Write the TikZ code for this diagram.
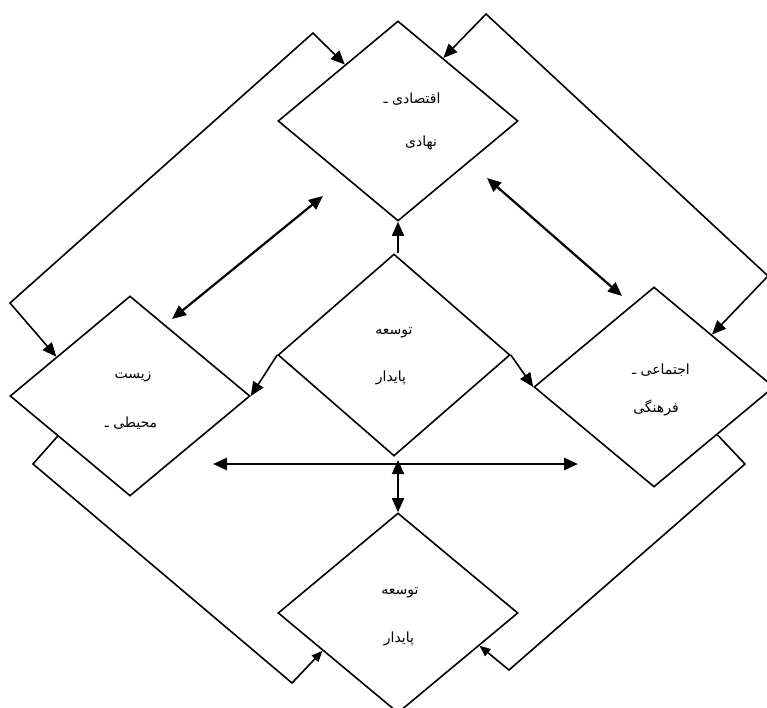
\documentclass[tikz,border=0pt]{standalone}
\usepackage{fontspec}
\newfontfamily\arabicfont[Script=Arabic]{DejaVu Sans}
\TeXXeTstate=1
\usetikzlibrary{shapes.geometric, arrows.meta, calc}

\begin{document}
\begin{tikzpicture}[x=1pt, y=-1pt, line width=1.6pt,
  box/.style={diamond, draw, inner sep=0pt, minimum width=240pt, minimum height=200pt},
  lbl/.style={font=\arabicfont\fontsize{14}{16}\selectfont, inner sep=0pt},
  link/.style={-{Triangle[length=14pt, width=12pt]}},
  twoway/.style={{Triangle[length=14pt, width=12pt]}-{Triangle[length=14pt, width=12pt]}},
  small/.style={-{Triangle[length=11pt, width=9pt]}}]
\useasboundingbox (0,0) rectangle (767,708);

\node[box] (eco) at (398, 121) {};
\node[box] (env) at (130, 396) {};
\node[box, minimum width=232pt, minimum height=202pt] (sd) at (394, 355) {};
\node[box] (soc) at (654, 387) {};
\node[box] (sd2) at (398, 613) {};

\node[lbl] (eco1) at (412, 99) {\beginR اقتصادی ـ\endR};
\node[lbl] (eco2) at (421, 143) {\beginR نهادی\endR};
\node[lbl] (env1) at (133, 377) {\beginR زیست\endR};
\node[lbl] (env2) at (131, 423) {\beginR محیطی ـ\endR};
\node[lbl] (sd1) at (394, 333) {\beginR توسعه\endR};
\node[lbl] (sd3) at (391, 378) {\beginR پایدار\endR};
\node[lbl] (soc1) at (661, 370) {\beginR اجتماعی ـ\endR};
\node[lbl] (soc2) at (656, 408) {\beginR فرهنگی\endR};
\node[lbl] (sd21) at (400, 593) {\beginR توسعه\endR};
\node[lbl] (sd22) at (399, 639) {\beginR پایدار\endR};

% from the centre
\draw[link] (sd.north -| eco.south) -- (eco.south);
\draw[link] (sd.west) -- (env.east);
\draw[link] (sd.east) -- (soc.west);

\coordinate (a1) at (323, 196);
\coordinate (a2) at (172, 319);
\coordinate (b1) at (487, 178);
\coordinate (b2) at (622, 296);
\coordinate (hl) at (213, 464);
\coordinate (hr) at (578, 464);
\coordinate (vt) at (398, 460);
\draw[twoway, line width=2.2pt] (a2) -- (a1);
\draw[twoway, line width=2.2pt] (b1) -- (b2);
\draw[twoway, line width=2.4pt] (hl) -- (hr);
\draw[twoway, line width=1.8pt] (vt) -- (sd2.north);

% outer loops
\coordinate (tl1) at (10, 303);
\coordinate (tl2) at (313, 33);
\draw[twoway] ($(env.west)!0.39!(env.north)$) -- (tl1) -- (tl2) -- ($(eco.west)!0.56!(eco.north)$);
\coordinate (tr1) at (486, 14);
\coordinate (tr2) at (768, 276);
\draw[twoway] ($(eco.north)!0.375!(eco.east)$) -- (tr1) -- (tr2) -- ($(soc.north)!0.48!(soc.east)$);
\coordinate (bl1) at (33, 464);
\coordinate (bl2) at (292, 683);
\draw[small] ($(env.west)!0.4!(env.south)$) -- (bl1) -- (bl2) -- ($(sd2.west)!0.375!(sd2.south)$);
\coordinate (br1) at (745, 464);
\coordinate (br2) at (509, 670);
\draw[small] ($(soc.east)!0.475!(soc.south)$) -- (br1) -- (br2) -- ($(sd2.east)!0.325!(sd2.south)$);

\end{tikzpicture}
\end{document}
